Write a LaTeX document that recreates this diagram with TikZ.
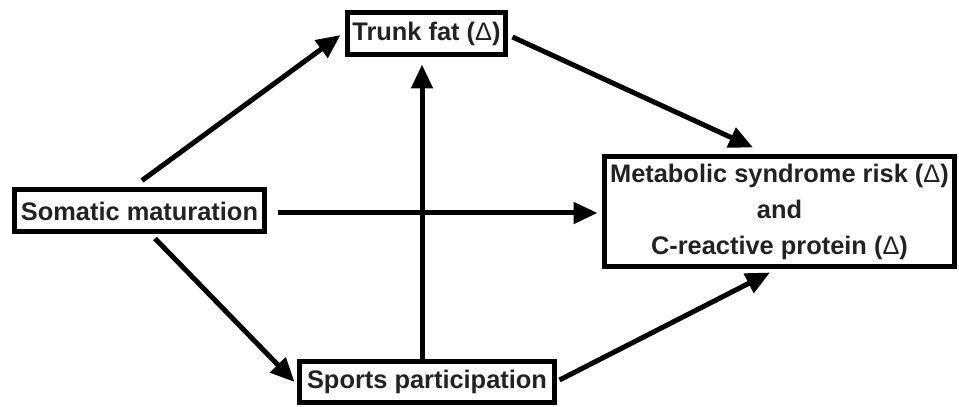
\documentclass[tikz,border=0pt]{standalone}
\usepackage{fontspec}
\setmainfont{Liberation Sans}
\usetikzlibrary{arrows.meta,calc}
\definecolor{txt}{RGB}{34,34,34}
\newcommand{\dlt}{{\mdseries Δ}}
\tikzset{
  box/.style={draw=black, line width=5pt, inner sep=0pt, text=txt,
    font=\bfseries\fontsize{25.4}{36}\selectfont, align=center},
  arr/.style={line width=5pt, -{Triangle[length=24pt,width=21pt]}}
}
\begin{document}
\begin{tikzpicture}[x=1pt,y=1pt]
\useasboundingbox (0,0) rectangle (959,407);
\node[box, minimum width=158pt, minimum height=42pt] (trunk) at (426.5,373.5) {Trunk fat (\dlt)};
\node[box, minimum width=250pt, minimum height=42pt] (somatic) at (139.5,196) {Somatic maturation};
\node[box, minimum width=350pt, minimum height=110pt] (metab) at (779.5,195.5) {Metabolic syndrome risk (\dlt)\\and\\C-reactive protein (\dlt)};
\node[box, minimum width=255pt, minimum height=41.5pt] (sports) at (427,25) {Sports participation};
\draw[arr] ($(somatic.north)+(2.5,7)$) -- ($(trunk.west)+(-4.5,-1.5)$);
\draw[arr] ($(somatic.east)+(10.5,-2)$) -- ($(metab.west)+(-4.5,-1.5)$);
\draw[arr] ($(somatic.south)+(15.5,-4)$) -- ($(sports.west)+(-2.5,0)$);
\draw[arr] ($(sports.north)+(-5,0)$) -- ($(trunk.south)+(-4.5,-7.5)$);
\draw[arr] ($(trunk.east)+(4.5,-3.5)$) -- ($(metab.north)+(-26.5,6.5)$);
\draw[arr] ($(sports.east)+(2.5,2)$) -- ($(metab.south)+(-9.5,-3.5)$);
\end{tikzpicture}
\end{document}
